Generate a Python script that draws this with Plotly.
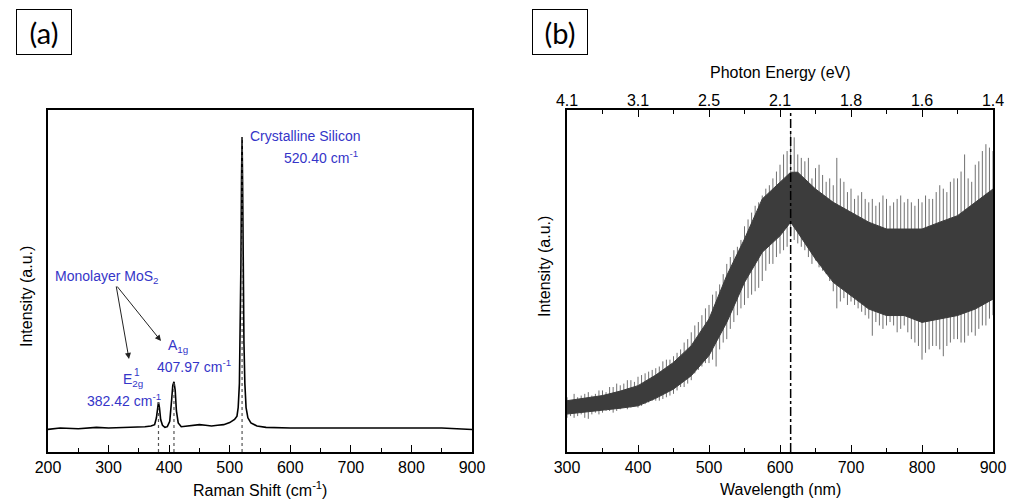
import plotly.graph_objects as go

# target picture size and the browser's default 8px body margin
PW, PH = 1016, 502
OFF = 8
W, H = PW - OFF, PH - OFF

# ---------------- Panel (a): Raman spectrum ----------------
raman_shift = [200, 220, 250, 280, 300, 320, 340, 360, 370, 376, 379, 381, 382.4, 384, 386, 389,
               393, 397, 401, 404, 406, 408, 410, 412, 415, 420, 430, 440, 450, 460, 470, 480,
               490, 500, 508, 512, 514, 516, 517.5, 518.5, 519.5, 520.4, 521.3, 522.3, 523.5,
               525, 527, 530, 535, 545, 560, 600, 650, 700, 750, 800, 850, 900]
raman_int = [0.066, 0.070, 0.068, 0.072, 0.070, 0.071, 0.072, 0.074, 0.076, 0.080, 0.100, 0.130,
             0.146, 0.130, 0.095, 0.078, 0.072, 0.074, 0.090, 0.150, 0.195, 0.205, 0.180, 0.120,
             0.085, 0.074, 0.076, 0.078, 0.080, 0.078, 0.076, 0.078, 0.080, 0.086, 0.095, 0.105,
             0.130, 0.200, 0.350, 0.550, 0.800, 0.921, 0.780, 0.520, 0.320, 0.200, 0.130, 0.100,
             0.085, 0.076, 0.072, 0.070, 0.070, 0.069, 0.070, 0.068, 0.070, 0.066]
peak_pos = [382.42, 407.97, 520.40]
peak_top = [0.146, 0.205, 0.921]
raman_ticks = [200, 300, 400, 500, 600, 700, 800, 900]

# ---------------- Panel (b): PL spectrum ----------------
core_wl = [300, 325, 350, 375, 400, 425, 450, 475, 500, 525, 550, 575, 600, 615, 625, 650,
           675, 700, 725, 750, 775, 800, 825, 850, 875, 900]
core_hi = [0.150, 0.158, 0.165, 0.178, 0.194, 0.225, 0.262, 0.311, 0.389, 0.516, 0.623, 0.740,
           0.789, 0.818, 0.818, 0.769, 0.730, 0.701, 0.672, 0.652, 0.652, 0.652, 0.672, 0.691,
           0.730, 0.769]
core_lo = [0.111, 0.116, 0.121, 0.128, 0.135, 0.157, 0.184, 0.223, 0.282, 0.379, 0.496, 0.584,
           0.632, 0.672, 0.642, 0.564, 0.496, 0.457, 0.418, 0.399, 0.399, 0.379, 0.389, 0.399,
           0.418, 0.447]
spike_wl = [300, 310, 320, 330, 340, 350, 360, 370, 380, 390, 400, 410, 420, 430, 440, 450,
            460, 470, 480, 490, 500, 510, 520, 530, 540, 550, 560, 570, 580, 590, 600, 610,
            620, 630, 640, 650, 660, 670, 680, 690, 700, 710, 720, 730, 740, 750, 760, 770,
            780, 790, 800, 810, 820, 830, 840, 850, 860, 870, 880, 890, 900]
spike_hi = [0.16, 0.17, 0.165, 0.175, 0.17, 0.18, 0.19, 0.20, 0.20, 0.21, 0.22, 0.23, 0.24,
            0.25, 0.27, 0.28, 0.30, 0.33, 0.37, 0.40, 0.43, 0.47, 0.52, 0.57, 0.60, 0.66, 0.70,
            0.73, 0.77, 0.80, 0.84, 0.88, 0.92, 0.86, 0.86, 0.83, 0.81, 0.80, 0.86, 0.79, 0.77,
            0.75, 0.74, 0.74, 0.73, 0.74, 0.73, 0.75, 0.74, 0.72, 0.73, 0.74, 0.76, 0.77, 0.79,
            0.80, 0.87, 0.79, 0.85, 0.90, 0.88]
spike_lo = [0.10, 0.10, 0.11, 0.097, 0.115, 0.115, 0.12, 0.12, 0.13, 0.13, 0.13, 0.14, 0.15,
            0.15, 0.16, 0.17, 0.19, 0.20, 0.23, 0.25, 0.26, 0.25, 0.32, 0.36, 0.40, 0.43, 0.46,
            0.48, 0.53, 0.55, 0.58, 0.60, 0.62, 0.60, 0.57, 0.56, 0.53, 0.50, 0.42, 0.45, 0.44,
            0.42, 0.40, 0.34, 0.37, 0.37, 0.37, 0.36, 0.35, 0.32, 0.27, 0.30, 0.31, 0.28, 0.32,
            0.33, 0.32, 0.35, 0.36, 0.37, 0.40]
spike2_wl = [305, 315, 325, 335, 345, 355, 365, 375, 385, 395, 405, 415, 425, 435, 445, 455,
             465, 475, 485, 495, 505, 515, 525, 535, 545, 555, 565, 575, 585, 595, 605, 615,
             625, 635, 645, 655, 665, 675, 685, 695, 705, 715, 725, 735, 745, 755, 765, 775,
             785, 795, 805, 815, 825, 835, 845, 855, 865, 875, 885, 895]
spike2_hi = [0.15, 0.16, 0.17, 0.165, 0.18, 0.175, 0.19, 0.195, 0.21, 0.205, 0.225, 0.235,
             0.245, 0.265, 0.27, 0.29, 0.32, 0.35, 0.38, 0.42, 0.46, 0.49, 0.55, 0.59, 0.62,
             0.68, 0.72, 0.75, 0.78, 0.82, 0.87, 0.93, 0.87, 0.85, 0.80, 0.84, 0.79, 0.78, 0.80,
             0.76, 0.74, 0.76, 0.73, 0.72, 0.75, 0.72, 0.74, 0.73, 0.73, 0.74, 0.75, 0.74, 0.78,
             0.76, 0.80, 0.82, 0.80, 0.84, 0.88, 0.89]
spike2_lo = [0.105, 0.105, 0.10, 0.11, 0.11, 0.12, 0.115, 0.125, 0.125, 0.135, 0.135, 0.145,
             0.15, 0.155, 0.165, 0.18, 0.19, 0.21, 0.24, 0.26, 0.27, 0.30, 0.33, 0.38, 0.42,
             0.45, 0.47, 0.50, 0.55, 0.57, 0.59, 0.63, 0.61, 0.59, 0.55, 0.54, 0.52, 0.47, 0.44,
             0.43, 0.43, 0.41, 0.39, 0.38, 0.36, 0.38, 0.35, 0.37, 0.33, 0.31, 0.29, 0.31, 0.30,
             0.31, 0.33, 0.32, 0.34, 0.34, 0.37, 0.39]
pl_peak_wl = 615
wl_ticks = [300, 400, 500, 600, 700, 800, 900]
energy_labels = ["4.1", "3.1", "2.5", "2.1", "1.8", "1.6", "1.4"]

FONT = "Liberation Sans, Arial, sans-serif"
BLUE = "#3535c8"


def fx(x):  # picture pixel x -> paper fraction
    return (x - OFF) / W


def fy(y):  # picture pixel y -> paper fraction
    return 1 - (y - OFF) / H


fig = go.Figure()

fig.add_trace(go.Scatter(x=raman_shift, y=raman_int, mode="lines",
                         line=dict(color="black", width=1.6), xaxis="x", yaxis="y",
                         showlegend=False, hoverinfo="skip"))
for p, t in zip(peak_pos, peak_top):
    fig.add_trace(go.Scatter(x=[p, p], y=[0, t], mode="lines",
                             line=dict(color="#555555", width=1.2, dash="dot"),
                             xaxis="x", yaxis="y", showlegend=False, hoverinfo="skip"))

sx, sy = [], []
for wl, lo_a, hi_a in ((spike_wl, spike_lo, spike_hi), (spike2_wl, spike2_lo, spike2_hi)):
    for w, lo, hi in zip(wl, lo_a, hi_a):
        sx += [w, w, None]
        sy += [lo, hi, None]
fig.add_trace(go.Scatter(x=sx, y=sy, mode="lines", line=dict(color="#707070", width=1),
                         xaxis="x2", yaxis="y2", showlegend=False, hoverinfo="skip"))
fig.add_trace(go.Scatter(x=core_wl, y=core_hi, mode="lines",
                         line=dict(color="#3c3c3c", width=1), xaxis="x2", yaxis="y2",
                         showlegend=False, hoverinfo="skip"))
fig.add_trace(go.Scatter(x=core_wl, y=core_lo, mode="lines", fill="tonexty",
                         fillcolor="#3c3c3c", line=dict(color="#3c3c3c", width=1),
                         xaxis="x2", yaxis="y2", showlegend=False, hoverinfo="skip"))
fig.add_trace(go.Scatter(x=[pl_peak_wl, pl_peak_wl], y=[0, 1], mode="lines",
                         line=dict(color="black", width=1.5, dash="dashdot"),
                         xaxis="x2", yaxis="y2", showlegend=False, hoverinfo="skip"))
fig.add_trace(go.Scatter(x=[300, 900], y=[None, None], mode="lines", xaxis="x3", yaxis="y2",
                         showlegend=False, hoverinfo="skip"))

ydom = [fy(452), fy(110)]
axis_common = dict(showline=True, linecolor="black", linewidth=1.5, mirror=True,
                   showgrid=False, zeroline=False, automargin=False)

fig.update_layout(
    width=W, height=H, margin=dict(l=0, r=0, t=0, b=0, pad=0, autoexpand=False),
    paper_bgcolor="white", plot_bgcolor="white",
    font=dict(family=FONT, size=16, color="black"),
    xaxis=dict(domain=[fx(48), fx(472)], range=[200, 900], anchor="y",
               tickvals=raman_ticks, ticks="inside", ticklen=7, tickwidth=1.3, tickcolor="black",
               minor=dict(ticks="inside", ticklen=4, dtick=50, tickcolor="black", tickwidth=1.3),
               tickfont=dict(size=16), **axis_common),
    yaxis=dict(domain=ydom, range=[0, 1], anchor="x", showticklabels=False, ticks="",
               **axis_common),
    xaxis2=dict(domain=[fx(567), fx(993)], range=[300, 900], anchor="y2",
                tickvals=wl_ticks, ticks="inside", ticklen=7, tickwidth=1.3, tickcolor="black",
                minor=dict(ticks="inside", ticklen=4, dtick=50, tickcolor="black", tickwidth=1.3),
                tickfont=dict(size=16), **axis_common),
    yaxis2=dict(domain=ydom, range=[0, 1], anchor="x2", showticklabels=False, ticks="",
                **axis_common),
    xaxis3=dict(overlaying="x2", side="top", anchor="y2", range=[300, 900],
                tickvals=wl_ticks, ticktext=energy_labels, ticks="inside", ticklen=7,
                tickwidth=1.3, tickcolor="black",
                minor=dict(ticks="inside", ticklen=4, tickvals=[350, 450, 550, 650, 750, 850],
                           tickcolor="black", tickwidth=1.3),
                showline=False, showgrid=False, zeroline=False, automargin=False,
                tickfont=dict(size=16)),
)

ann = []


def text(t, x, y, size=14, color=BLUE, xanchor="left", angle=0, family=FONT):
    ann.append(dict(text=t, x=fx(x), y=fy(y), xref="paper", yref="paper", showarrow=False,
                    xanchor=xanchor, yanchor="middle", textangle=angle,
                    font=dict(size=size, color=color, family=family)))


for lab, cx in (("(a)", 44), ("(b)", 560)):
    ann.append(dict(text=lab, x=fx(cx), y=fy(32), xref="paper", yref="paper", showarrow=False,
                    xanchor="center", yanchor="middle", width=54, height=44,
                    bordercolor="black", borderwidth=1, borderpad=0,
                    font=dict(size=29, color="black", family="Lato, Open Sans, sans-serif")))

text("Raman Shift (cm<sup>-1</sup>)", 260, 489, size=16, color="black", xanchor="center")
text("Wavelength (nm)", 780, 489, size=16, color="black", xanchor="center")
text("Photon Energy (eV)", 780, 72, size=16, color="black", xanchor="center")
text("Intensity (a.u.)", 26, 297, size=16, color="black", xanchor="center", angle=-90)
text("Intensity (a.u.)", 544, 267, size=16, color="black", xanchor="center", angle=-90)

text("Crystalline Silicon", 248, 136)
text("520.40 cm<sup>-1</sup>", 282, 157)
text("Monolayer MoS<sub>2</sub>", 53, 277)
text("A<sub>1g</sub>", 166, 346)
text("407.97 cm<sup>-1</sup>", 155, 366)
text("E<sub>2g</sub>", 121, 380)
text("1", 132, 372, size=10)
text("382.42 cm<sup>-1</sup>", 85, 400)

for hx, hy in ((129, 359), (161, 341)):
    ann.append(dict(text="", x=fx(hx), y=fy(hy), xref="paper", yref="paper", showarrow=True,
                    ax=116 - hx, ay=285 - hy, arrowhead=2, arrowsize=1.2, arrowwidth=1,
                    arrowcolor="#222222"))

fig.update_layout(annotations=ann)
fig.write_html("out.html")
